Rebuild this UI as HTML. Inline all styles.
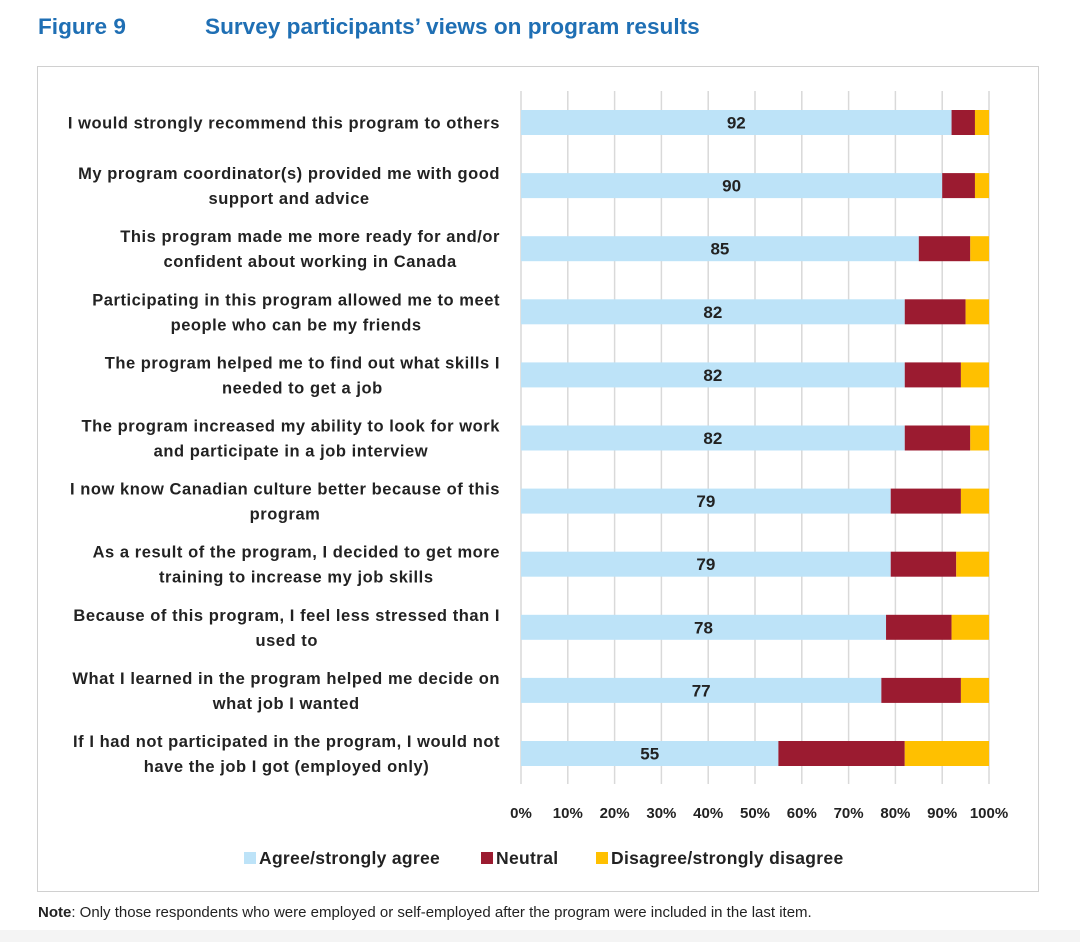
<!DOCTYPE html>
<html><head><meta charset="utf-8"><style>
body{margin:0;width:1080px;height:942px;background:#fff;font-family:"Liberation Sans",sans-serif;position:relative;overflow:hidden}
.t{position:absolute;color:#1f6fb4;font-weight:bold;font-size:22.6px;top:14px}
#box{position:absolute;left:37px;top:66px;width:1000px;height:824px;border:1px solid #d0d0d0}
#note{position:absolute;left:38px;top:904px;font-size:15px;color:#222}
#foot{position:absolute;left:0;top:930px;width:1080px;height:12px;background:#f4f4f4}
</style></head><body>
<div class="t" style="left:38px">Figure 9</div>
<div class="t" style="left:205px">Survey participants’ views on program results</div>
<div id="box"></div>
<svg id="chart" width="1080" height="942" style="position:absolute;left:0;top:0"></svg>
<div id="note"><b>Note</b>: Only those respondents who were employed or self-employed after the program were included in the last item.</div>
<div id="foot"></div>
<script>
const categories=[["I would strongly recommend this program to others"],["My program coordinator(s) provided me with good","support and advice"],["This program made me more ready for and/or","confident about working in Canada"],["Participating in this program allowed me to meet","people who can be my friends"],["The program helped me to find out what skills I","needed to get a job"],["The program increased my ability to look for work","and participate in a job interview"],["I now know Canadian culture better because of this","program"],["As a result of the program, I decided to get more","training to increase my job skills"],["Because of this program, I feel less stressed than I","used to"],["What I learned in the program helped me decide on","what job I wanted"],["If I had not participated in the program, I would not","have the job I got (employed only)"]];
const agree=[92,90,85,82,82,82,79,79,78,77,55];
const neutral=[5,7,11,13,12,14,15,14,14,17,27];
const disagree=[3,3,4,5,6,4,6,7,8,6,18];
const ticks=[0,10,20,30,40,50,60,70,80,90,100];
const seriesNames=["Agree/strongly agree","Neutral","Disagree/strongly disagree"];
const colors=["#bde3f8","#9b1b30","#ffc000"];
const NS="http://www.w3.org/2000/svg";
const svg=document.getElementById('chart');
const x0=521,x1=989,y0=110,step=63.1,bh=25;
const X=v=>x0+(x1-x0)*v/100;
const Y=i=>y0+i*step;
function mk(t,a,p){const e=document.createElementNS(NS,t);for(const k in a)e.setAttribute(k,a[k]);(p||svg).appendChild(e);return e;}
for(const t of ticks){
 const l=mk('line',{x1:X(t),x2:X(t),y1:91,y2:784,stroke:'#d9d9d9','stroke-width':1.5});
 
 
 const tx=mk('text',{x:X(t),y:818,'text-anchor':'middle','font-size':15,'font-weight':'bold',fill:'#222'});
 tx.textContent=t+'%';
 
 
}
categories.forEach((c,i)=>{
 const cy=Y(i)+bh/2;
 const vals=[agree[i],neutral[i],disagree[i]];
 let acc=0;
 vals.forEach((v,k)=>{
  const r=mk('rect',{x:X(acc),y:Y(i),width:X(acc+v)-X(acc),height:bh,fill:colors[k]});
  
  
  acc+=v;
 });
 const lab=mk('text',{x:X(agree[i]/2),y:cy+6,'text-anchor':'middle','font-size':17,'font-weight':'bold',fill:'#222'});
 lab.textContent=agree[i];
 
 
 const n=c.length;
 let first=null;
 c.forEach((line,j)=>{
  const ty=cy+6+(j-(n-1)/2)*25;
  const t=mk('text',{x:500,y:ty,'text-anchor':'end','font-size':16.5,'font-weight':'bold',fill:'#222','letter-spacing':0.55});
  t.textContent=line;
  
  
  if(j==0)first=t;else{const bb=first.getBBox();t.setAttribute('text-anchor','middle');t.setAttribute('x',bb.x+bb.width/2);}
 });
});
const lx=[244,481,596];
seriesNames.forEach((s,k)=>{
 const r=mk('rect',{x:lx[k],y:852,width:12,height:12,fill:colors[k]});
 
 
 const t=mk('text',{x:lx[k]+15,y:864,'font-size':17.5,'font-weight':'bold',fill:'#222','letter-spacing':0.3});
 t.textContent=s;
 
 
});
</script>
</body></html>
